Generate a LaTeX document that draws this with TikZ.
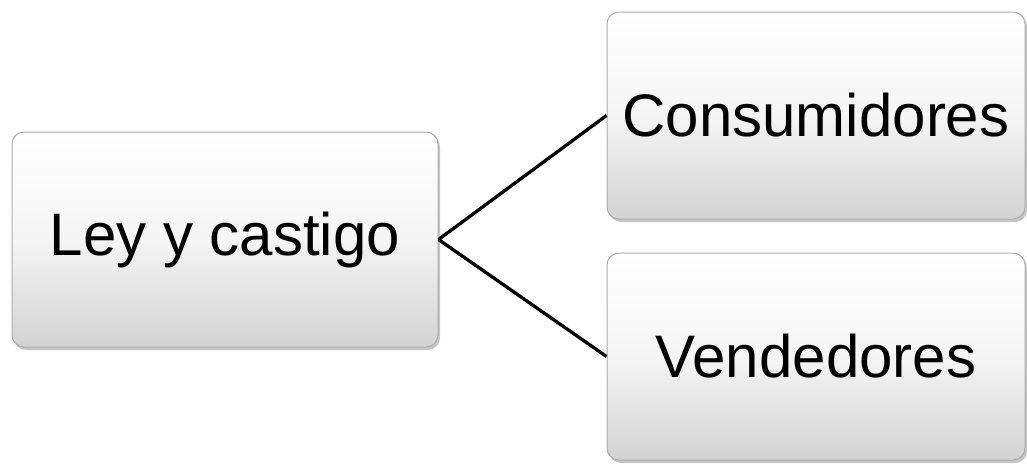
\documentclass[tikz,border=0pt]{standalone}
\usepackage{fontspec}
\setmainfont{Liberation Sans}
\usetikzlibrary{shadows}
\begin{document}
\begin{tikzpicture}[x=1pt,y=-1pt,
  boxstyle/.style={draw=gray!65, line width=1pt, rounded corners=12pt,
    top color=white, bottom color=gray!35, middle color=gray!8,
    drop shadow={shadow xshift=2pt, shadow yshift=-3pt, fill=black!45, opacity=0.5},
    inner sep=0pt, font=\fontsize{60}{70}\selectfont},
  link/.style={line width=3.3pt, black}]
\useasboundingbox (0,0) rectangle (1027,466);
\node[boxstyle, minimum width=426pt, minimum height=215pt] (ley) at (225,239.5) {Ley y castigo};
\node[boxstyle, minimum width=418pt, minimum height=207pt] (con) at (816,115.5) {Consumidores};
\node[boxstyle, minimum width=418pt, minimum height=207pt] (ven) at (816,356.5) {Vendedores};
\draw[link] (ley.east) -- (con.west);
\draw[link] (ley.east) -- (ven.west);
\end{tikzpicture}
\end{document}
